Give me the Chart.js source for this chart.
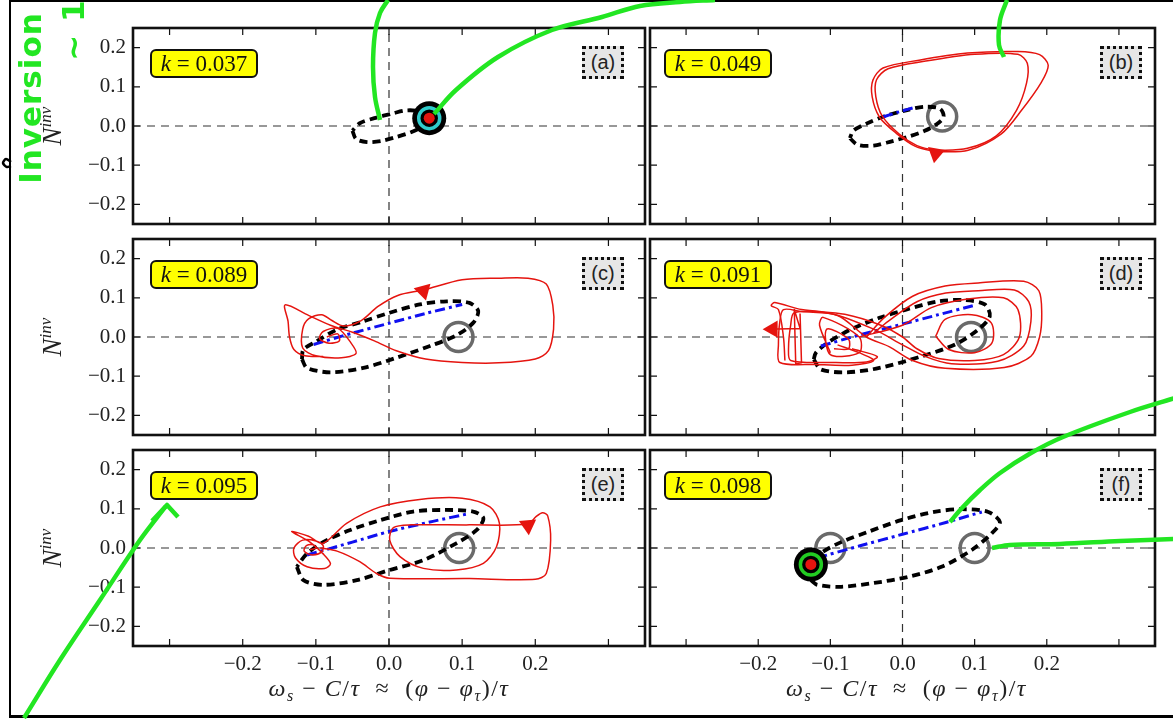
<!DOCTYPE html>
<html>
<head>
<meta charset="utf-8">
<script src="https://cdn.jsdelivr.net/npm/chart.js@4.4.0/dist/chart.umd.min.js"></script>
<style>
  body { margin: 0; background: #fff; width: 1173px; height: 719px; overflow: hidden; position: relative; }
  canvas { position: absolute; left: 0; top: 0; }
  #frame { position: absolute; left: 9px; top: 0; width: 1180px; height: 713px;
           border-left: 2px solid #000; border-top: 2px solid #000; border-bottom: 3px solid #000; }
  .txt { position: absolute; white-space: nowrap; z-index: 5; }
  .kbox { background: #ffff00; border: 2px solid #111; border-radius: 6px; box-sizing: border-box;
          font: 23px "Liberation Serif", serif; color: #111; display: flex; align-items: center; justify-content: center; }
  .tag { background: #e6e6e6; border: 3px dotted #111; box-sizing: border-box;
         font: 20px "Liberation Sans", sans-serif; color: #222; display: flex; align-items: center; justify-content: center; }
  .ylab { font: italic 27px "Liberation Serif", serif; color: #222; transform: translate(-50%, -50%) rotate(-90deg); }
  .ylab sup { font-size: 17px; vertical-align: 10px; }
  .xlab { font: 24px "Liberation Serif", serif; color: #222; transform: translate(-50%, -50%); letter-spacing: 1.5px; }
  .xlab sub { font-size: 16px; }
  .hand { font: bold 31px "DejaVu Sans", sans-serif; color: #22e622; transform: translate(-50%, -50%) rotate(-90deg); letter-spacing: 1px; }
</style>
</head>
<body>
<div id="frame"></div>

<script>
// axes
const xRange = [-0.35, 0.35];
const yRange = [-0.25, 0.25];
const xTicks = [-0.3, -0.2, -0.1, 0.0, 0.1, 0.2, 0.3];
const yTicks = [-0.2, -0.1, 0.0, 0.1, 0.2];
const kValues = ['0.037', '0.049', '0.089', '0.091', '0.095', '0.098'];
const panelTags = ['(a)', '(b)', '(c)', '(d)', '(e)', '(f)'];

// (a) k = 0.037
const aLoop = [[-0.05,-0.012],[-0.045,-0.033],[-0.03,-0.041],[-0.01,-0.038],[0.01,-0.028],[0.03,-0.016],[0.045,-0.002],[0.053,0.02],[0.045,0.036],[0.025,0.04],[0.005,0.032],[-0.02,0.02],[-0.04,0.007],[-0.05,-0.012]];
const aStable = [[0.055,0.02]];

// (b) k = 0.049
const bLoop = [[-0.073,-0.031],[-0.062,-0.048],[-0.04,-0.05],[-0.015,-0.039],[0.01,-0.026],[0.03,-0.013],[0.046,0.003],[0.057,0.023],[0.052,0.044],[0.03,0.049],[0.005,0.04],[-0.025,0.025],[-0.05,0.006],[-0.068,-0.012],[-0.073,-0.031]];
const bBlue = [[-0.027,0.023],[-0.005,0.036],[0.014,0.046]];
const bSaddle = [[0.055,0.024]];
const bRed1 = [[0.046,-0.066],[0.091,-0.062],[0.137,-0.02],[0.165,0.04],[0.192,0.11],[0.202,0.155],[0.19,0.182],[0.16,0.19],[0.09,0.186],[0.023,0.168],[-0.027,0.148],[-0.041,0.117],[-0.042,0.074],[-0.032,0.023],[-0.009,-0.018],[0.018,-0.052],[0.046,-0.066]];
const bRed2 = [[0.046,-0.063],[0.09,-0.057],[0.13,-0.025],[0.158,0.04],[0.172,0.11],[0.173,0.16],[0.16,0.183],[0.1,0.183],[0.03,0.165],[-0.02,0.146],[-0.036,0.118],[-0.037,0.075],[-0.028,0.025],[-0.005,-0.02],[0.02,-0.05],[0.046,-0.063]];
const bArrow = [[0.046,-0.07]];

// (c) k = 0.089
const cLoop = [[-0.119,-0.057],[-0.112,-0.079],[-0.08,-0.09],[-0.035,-0.079],[0.01,-0.053],[0.056,-0.023],[0.092,0.004],[0.115,0.036],[0.122,0.066],[0.11,0.087],[0.079,0.091],[0.042,0.083],[0.001,0.062],[-0.035,0.04],[-0.071,0.019],[-0.099,-0.011],[-0.117,-0.032],[-0.119,-0.057]];
const cBlue = [[-0.103,-0.019],[-0.05,0.01],[0.0,0.035],[0.05,0.06],[0.1,0.083]];
const cSaddle = [[0.095,0.0]];
const cRed = [[-0.085,0.0],[-0.07,0.008],[-0.068,-0.01],[-0.082,-0.016],[-0.095,-0.004],[-0.09,0.014],[-0.07,0.022],[-0.052,-0.015],[-0.045,-0.042],[-0.065,-0.053],[-0.1,-0.048],[-0.118,-0.028],[-0.118,0.02],[-0.11,0.046],[-0.092,0.057],[-0.078,0.042],[-0.062,0.028],[-0.038,0.042],[-0.015,0.078],[0.012,0.106],[0.047,0.12],[0.1,0.146],[0.15,0.15],[0.19,0.15],[0.215,0.135],[0.224,0.08],[0.225,0.02],[0.218,-0.035],[0.2,-0.056],[0.15,-0.066],[0.1,-0.065],[0.05,-0.056],[0.01,-0.035],[-0.02,-0.01],[-0.05,0.012],[-0.08,0.03],[-0.11,0.055],[-0.142,0.082],[-0.138,0.04],[-0.136,0.0],[-0.13,-0.032],[-0.115,-0.048],[-0.09,-0.05]];
const cArrow = [[0.047,0.118]];

// (d) k = 0.091
const dLoop = [[-0.123,-0.057],[-0.113,-0.083],[-0.077,-0.09],[-0.032,-0.079],[0.027,-0.049],[0.073,-0.019],[0.105,0.019],[0.121,0.053],[0.114,0.083],[0.087,0.094],[0.05,0.091],[0.005,0.07],[-0.032,0.049],[-0.072,0.019],[-0.104,-0.015],[-0.12,-0.04],[-0.123,-0.057]];
const dBlue = [[-0.113,-0.023],[-0.06,0.005],[0.0,0.033],[0.05,0.057],[0.098,0.08]];
const dSaddle = [[0.095,0.0]];
const dRed1 = [[-0.05,0.0],[-0.025,0.05],[0.014,0.104],[0.059,0.13],[0.105,0.138],[0.168,0.142],[0.189,0.118],[0.193,0.06],[0.19,0.0],[0.178,-0.049],[0.141,-0.078],[0.059,-0.08],[0.014,-0.06],[-0.018,-0.025],[-0.05,0.0],[-0.09,0.055],[-0.14,0.065],[-0.165,0.07],[-0.17,0.04],[-0.172,-0.02],[-0.17,-0.065],[-0.12,-0.07],[-0.07,-0.072],[-0.04,-0.06],[-0.06,-0.04],[-0.09,-0.02]];
const dRed2 = [[-0.04,0.01],[-0.02,0.04],[0.02,0.09],[0.06,0.112],[0.105,0.118],[0.155,0.12],[0.175,0.09],[0.178,0.04],[0.168,-0.023],[0.132,-0.062],[0.068,-0.068],[0.032,-0.05],[0.0,-0.02],[-0.04,0.02],[-0.1,0.06],[-0.15,0.062],[-0.155,0.03],[-0.158,-0.03],[-0.155,-0.06],[-0.1,-0.065],[-0.05,-0.064],[-0.035,-0.05],[-0.07,-0.03]];
const dRed3 = [[-0.06,0.0],[0.0,0.03],[0.04,0.075],[0.09,0.097],[0.14,0.1],[0.16,0.07],[0.162,0.0],[0.14,-0.045],[0.1,-0.06],[0.05,-0.055],[0.02,-0.03],[0.0,0.0],[-0.03,0.03],[-0.08,0.058],[-0.14,0.07],[-0.177,0.088],[-0.182,0.08],[-0.172,0.07],[-0.165,0.0],[-0.163,-0.06]];
const dRed4 = [[0.046,0.002],[0.059,0.045],[0.096,0.057],[0.123,0.036],[0.124,-0.015],[0.1,-0.04],[0.064,-0.032],[0.046,0.002]];
const dSpiral = [[-0.1,-0.04],[-0.115,0.03],[-0.11,0.05],[-0.06,0.0],[-0.06,-0.04],[-0.1,-0.045],[-0.105,0.02],[-0.075,-0.005],[-0.075,-0.03],[-0.095,-0.03]];
const dComb = [[-0.19,0.02],[-0.142,0.022],[-0.15,0.07],[-0.148,-0.068],[-0.14,-0.066],[-0.142,0.06]];
const dArrow = [[-0.18,0.02]];

// (e) k = 0.095
const eLoop = [[-0.126,-0.048],[-0.117,-0.082],[-0.09,-0.094],[-0.044,-0.082],[0.001,-0.056],[0.047,-0.031],[0.092,0.012],[0.12,0.046],[0.129,0.076],[0.115,0.093],[0.074,0.097],[0.033,0.093],[-0.012,0.071],[-0.053,0.046],[-0.085,0.02],[-0.112,-0.014],[-0.126,-0.048]];
const eBlue = [[-0.112,-0.018],[-0.05,0.015],[0.0,0.042],[0.06,0.068],[0.11,0.088]];
const eSaddle = [[0.096,0.0]];
const eRed = [[-0.108,-0.004],[-0.1,0.0],[-0.103,0.008],[-0.113,0.006],[-0.116,-0.008],[-0.105,-0.018],[-0.092,-0.01],[-0.09,0.006],[-0.1,0.018],[-0.118,0.02],[-0.13,0.0],[-0.128,-0.025],[-0.112,-0.048],[-0.088,-0.052],[-0.08,-0.04],[-0.09,-0.015],[-0.108,0.015],[-0.133,0.042],[-0.11,0.03],[-0.09,0.012],[-0.058,0.063],[-0.012,0.105],[0.042,0.124],[0.1,0.127],[0.138,0.105],[0.151,0.063],[0.147,0.003],[0.129,-0.039],[0.092,-0.056],[0.047,-0.052],[0.015,-0.022],[0.001,0.02],[0.006,0.052],[0.03,0.059],[0.11,0.059],[0.19,0.061],[0.201,0.08],[0.21,0.09],[0.217,0.082],[0.221,0.02],[0.215,-0.065],[0.2,-0.08],[0.11,-0.078],[0.001,-0.077],[-0.017,-0.065],[-0.04,-0.035],[-0.071,-0.008],[-0.094,0.0]];
const eArrow = [[0.19,0.058]];

// (f) k = 0.098
const fLoop = [[-0.127,-0.082],[-0.118,-0.094],[-0.085,-0.099],[-0.039,-0.089],[0.007,-0.074],[0.054,-0.048],[0.096,-0.005],[0.124,0.038],[0.135,0.066],[0.119,0.092],[0.082,0.099],[0.044,0.092],[-0.002,0.071],[-0.048,0.041],[-0.085,0.015],[-0.113,-0.013],[-0.127,-0.042],[-0.127,-0.082]];
const fBlue = [[-0.118,-0.025],[-0.06,0.005],[0.0,0.035],[0.06,0.065],[0.11,0.092]];
const fSaddle = [[-0.1,0.0],[0.1,0.0]];
const fStable = [[-0.127,-0.042]];

// hand-drawn green strokes, page units
const gStroke1 = [[388,0],[380,13],[375,33],[373,67],[375,97],[380,120]];
const gStroke2 = [[434,114],[456,90],[498,57],[552,30],[602,17],[640,6],[680,2],[715,0]];
const gStroke3 = [[1007,0],[1000,20],[999,45],[1004,57]];
const gStroke4 = [[24,718],[60,660],[100,600],[140,540],[166,506]];
const gHead4 = [[152,521],[167,505],[178,517]];
const gStroke5 = [[1175,398],[1130,412],[1063,437],[1031,453],[1000,473],[980,490],[962,508],[950,522]];
const gStroke6 = [[992,548],[1010,545],[1060,544],[1120,541],[1175,539]];
const blackHook = [[11,162],[6,159],[3,163],[7,167],[11,166]];

const W = 1173, H = 719;
const colLeft = [133, 650], colRight = [645, 1163];
const rowTop = [28, 239, 450], rowBottom = [224, 435, 646];
const RED = '#e5140f', BLUE = '#1010f0', GREEN = '#22e622';
const FONT = '"Liberation Serif", serif';

const fmt = v => Math.abs(v) < 1e-9 ? '0.0' : (v < 0 ? '\u2212' + Math.abs(v).toFixed(1) : v.toFixed(1));
const pts = arr => arr.map(p => ({ x: p[0], y: p[1] }));

function curve(arr, color, width, dash, order, tension) {
    return {
        data: pts(arr), showLine: true, borderColor: color, borderWidth: width,
        borderDash: dash || [], pointRadius: 0, tension: tension === undefined ? 0.3 : tension,
        order: order, fill: false, borderCapStyle: 'butt', borderJoinStyle: 'round', clip: false
    };
}
function marks(arr, opts, order) {
    return Object.assign({ data: pts(arr), showLine: false, order: order, clip: false, pointBorderWidth: 0 }, opts);
}

const zeroH = [[xRange[0], 0], [xRange[1], 0]];
const zeroV = [[0, yRange[0]], [0, yRange[1]]];

function base(loop, blue, saddles) {
    const sets = [
        curve(zeroH, '#333', 1.2, [8, 6], 20, 0),
        curve(zeroV, '#333', 1.2, [8, 6], 20, 0),
        marks(saddles, { pointRadius: 14.5, pointBorderWidth: 3.5, pointBorderColor: '#6a6a6a', pointBackgroundColor: 'rgba(0,0,0,0)' }, 15),
        curve(loop, '#000', 3.8, [8, 5], 12)
    ];
    if (blue) sets.push(curve(blue, BLUE, 3, [10, 4, 3, 4], 10, 0.2));
    return sets;
}
// equilateral triangle: rotation = direction of one corner, clockwise from up
function redArrow(arr, rot) {
    return marks(arr, { pointStyle: 'triangle', pointRadius: 10, pointBackgroundColor: RED, pointRotation: rot }, 5);
}
function stable(arr, ring) {
    return [
        marks(arr, { pointRadius: 17, pointBackgroundColor: '#000' }, 4),
        marks(arr, { pointRadius: 10.5, pointBorderWidth: 3.5, pointBorderColor: ring, pointBackgroundColor: 'rgba(0,0,0,0)' }, 3),
        marks(arr, { pointRadius: 5.5, pointBackgroundColor: RED }, 2)
    ];
}

const panelSets = [
    [...base(aLoop, null, []), ...stable(aStable, '#30cccc')],
    [...base(bLoop, bBlue, bSaddle), curve(bRed1, RED, 1.5, [], 8), curve(bRed2, RED, 1.5, [], 8), redArrow(bArrow, 190)],
    [...base(cLoop, cBlue, cSaddle), curve(cRed, RED, 1.5, [], 8), redArrow(cArrow, 165)],
    [...base(dLoop, dBlue, dSaddle), curve(dRed1, RED, 1.5, [], 8), curve(dRed2, RED, 1.5, [], 8), curve(dRed3, RED, 1.5, [], 8),
        curve(dRed4, RED, 1.5, [], 8), curve(dSpiral, RED, 1.5, [], 8), curve(dComb, RED, 1.5, [], 8, 0), redArrow(dArrow, 270)],
    [...base(eLoop, eBlue, eSaddle), curve(eRed, RED, 1.5, [], 8), redArrow(eArrow, 175)],
    [...base(fLoop, fBlue, fSaddle), ...stable(fStable, '#22cc22')]
];

// frame and inward ticks like matplotlib
const framePlugin = {
    id: 'frame',
    afterDatasetsDraw(chart) {
        const { ctx, chartArea: a, scales: { x, y } } = chart;
        ctx.save();
        ctx.strokeStyle = '#111';
        ctx.lineWidth = 1.2;
        ctx.beginPath();
        xTicks.forEach(v => {
            const p = x.getPixelForValue(v);
            ctx.moveTo(p, a.bottom); ctx.lineTo(p, a.bottom - 7);
            ctx.moveTo(p, a.top); ctx.lineTo(p, a.top + 7);
        });
        yTicks.forEach(v => {
            const p = y.getPixelForValue(v);
            ctx.moveTo(a.left, p); ctx.lineTo(a.left + 7, p);
            ctx.moveTo(a.right, p); ctx.lineTo(a.right - 7, p);
        });
        ctx.stroke();
        ctx.lineWidth = 2.6;
        ctx.strokeRect(a.left, a.top, a.width, a.height);
        ctx.restore();
    }
};

function addText(cls, html, style) {
    const d = document.createElement('div');
    d.className = 'txt ' + cls;
    d.innerHTML = html;
    Object.assign(d.style, style);
    document.body.appendChild(d);
}

panelSets.forEach((sets, i) => {
    const col = i % 2, row = Math.floor(i / 2);
    const showY = col === 0, showX = row === 2;
    const yW = 60, xH = 36;
    const cv = document.createElement('canvas');
    cv.width = W; cv.height = H;
    document.body.appendChild(cv);

    new Chart(cv, {
        type: 'scatter',
        data: { datasets: sets },
        options: {
            responsive: false,
            animation: false,
            events: [],
            layout: {
                padding: {
                    left: showY ? colLeft[col] - yW : colLeft[col],
                    right: W - colRight[col],
                    top: rowTop[row],
                    bottom: showX ? H - rowBottom[row] - xH : H - rowBottom[row]
                }
            },
            plugins: { legend: { display: false }, tooltip: { enabled: false } },
            scales: {
                x: {
                    type: 'linear', min: xRange[0], max: xRange[1], display: showX,
                    grid: { display: false, drawTicks: false }, border: { display: false },
                    afterBuildTicks: s => { s.ticks = xTicks.map(v => ({ value: v })); },
                    afterFit: s => { if (showX) { s.height = xH; s.paddingLeft = 0; s.paddingRight = 0; } },
                    ticks: { autoSkip: false, maxRotation: 0, padding: 6, color: '#222', font: { family: FONT, size: 21 },
                             callback: v => Math.abs(v) > 0.25 ? '' : fmt(v) }
                },
                y: {
                    type: 'linear', min: yRange[0], max: yRange[1], display: showY,
                    grid: { display: false, drawTicks: false }, border: { display: false },
                    afterBuildTicks: s => { s.ticks = yTicks.map(v => ({ value: v })); },
                    afterFit: s => { if (showY) { s.width = yW; s.paddingTop = 0; s.paddingBottom = 0; } },
                    ticks: { padding: 7, color: '#222', font: { family: FONT, size: 21 }, callback: v => fmt(v) }
                }
            }
        },
        plugins: [framePlugin]
    });

    // k label and panel tag
    addText('kbox', '<i>k</i>&nbsp;=&nbsp;' + kValues[i], {
        left: (colLeft[col] + (col ? 14 : 17)) + 'px', top: (rowTop[row] + 21) + 'px', width: '108px', height: '29px'
    });
    addText('tag', panelTags[i], {
        left: (colRight[col] - 21 - 42) + 'px', top: (rowTop[row] + 18) + 'px', width: '42px', height: '33px'
    });
    if (showY) {
        addText('ylab', '<i>N</i><sup><i>inv</i></sup>', { left: '52px', top: ((rowTop[row] + rowBottom[row]) / 2) + 'px' });
    }
    if (showX) {
        addText('xlab', '<i>ω<sub>s</sub></i> − <i>C</i>/<i>τ</i> &nbsp;≈&nbsp; (<i>φ</i> − <i>φ<sub>τ</sub></i>)/<i>τ</i>',
            { left: ((colLeft[col] + colRight[col]) / 2) + 'px', top: '690px' });
    }
});

// green annotation overlay
const ov = document.createElement('canvas');
ov.width = W; ov.height = H;
ov.style.zIndex = 10;
document.body.appendChild(ov);
const green = arr => curve(arr, GREEN, 4.5, [], 1, 0.35);
new Chart(ov, {
    type: 'scatter',
    data: {
        datasets: [green(gStroke1), green(gStroke2), green(gStroke3), green(gStroke4), curve(gHead4, GREEN, 4.5, [], 1, 0),
                   green(gStroke5), green(gStroke6), curve(blackHook, '#000', 2.5, [], 1, 0.3)]
    },
    options: {
        responsive: false, animation: false, events: [],
        layout: { padding: 0 },
        plugins: { legend: { display: false }, tooltip: { enabled: false } },
        scales: {
            x: { type: 'linear', min: 0, max: W, display: false },
            y: { type: 'linear', min: 0, max: H, reverse: true, display: false }
        }
    }
});
addText('hand', 'Inversion', { left: '30px', top: '98px', zIndex: 11 });
addText('hand', '~ 1', { left: '73px', top: '30px', zIndex: 11 });
</script>
</body>
</html>
